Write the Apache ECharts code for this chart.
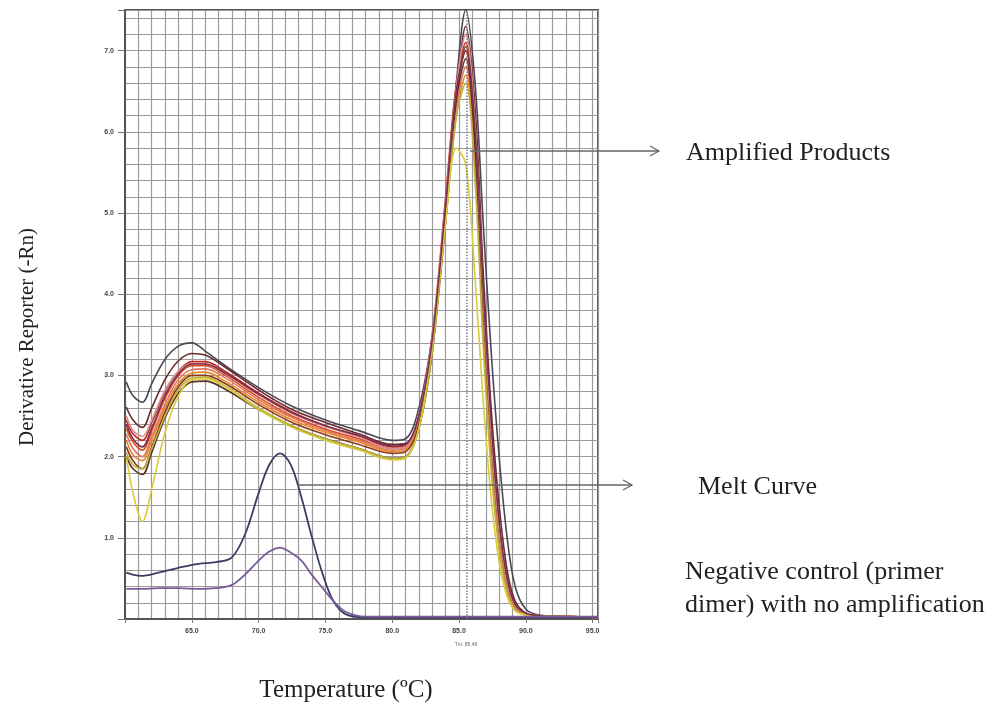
<!DOCTYPE html>
<html>
<head>
<meta charset="utf-8">
<script src="https://cdn.jsdelivr.net/npm/echarts@6/dist/echarts.min.js"></script>
<style>
  html, body { margin: 0; padding: 0; background: #fff; }
  #main { width: 995px; height: 710px; }
</style>
</head>
<body>
<div id="main"></div>
<script>
// melt temperatures (x) shared by the amplified samples
const temps = [60.1, 60.6, 61.3, 62.0, 63.0, 64.0, 65.0, 66.0, 67.5, 70, 72.5, 75, 77.5, 80, 81, 82, 83, 84, 84.8, 85.5, 86.2, 86.8, 87.4, 88.0, 88.6, 89.2, 90.0, 91, 93, 95.4];

// derivative reporter values, one array per well
const wellA = [2.92, 2.75, 2.67, 2.90, 3.20, 3.36, 3.40, 3.30, 3.12, 2.85, 2.62, 2.45, 2.32, 2.20, 2.22, 2.60, 3.50, 5.00, 6.60, 7.50, 6.60, 4.90, 3.30, 2.00, 1.00, 0.40, 0.12, 0.05, 0.03, 0.02];
const wellB = [2.61, 2.45, 2.36, 2.60, 2.95, 3.18, 3.27, 3.25, 3.10, 2.82, 2.58, 2.42, 2.28, 2.15, 2.16, 2.50, 3.40, 4.90, 6.40, 7.30, 6.30, 4.30, 2.60, 1.40, 0.60, 0.22, 0.07, 0.04, 0.03, 0.02];
const wellC = [2.45, 2.28, 2.20, 2.42, 2.80, 3.05, 3.17, 3.17, 3.05, 2.78, 2.55, 2.38, 2.25, 2.12, 2.14, 2.50, 3.50, 5.20, 6.60, 7.10, 6.00, 4.00, 2.30, 1.10, 0.45, 0.16, 0.06, 0.04, 0.03, 0.02];
const wellD = [2.35, 2.18, 2.08, 2.32, 2.72, 3.00, 3.12, 3.12, 3.00, 2.73, 2.50, 2.34, 2.22, 2.10, 2.12, 2.48, 3.45, 5.10, 6.50, 7.00, 5.90, 3.90, 2.20, 1.05, 0.42, 0.15, 0.06, 0.04, 0.03, 0.02];
const wellE = [2.28, 2.10, 2.00, 2.25, 2.65, 2.95, 3.07, 3.08, 2.97, 2.70, 2.48, 2.32, 2.20, 2.08, 2.10, 2.45, 3.40, 5.00, 6.30, 6.80, 5.70, 3.70, 2.10, 1.00, 0.40, 0.14, 0.05, 0.04, 0.03, 0.02];
const wellF = [2.20, 2.02, 1.95, 2.20, 2.60, 2.90, 3.03, 3.04, 2.93, 2.67, 2.45, 2.30, 2.18, 2.06, 2.08, 2.42, 3.30, 4.90, 6.20, 6.70, 5.60, 3.60, 2.00, 0.95, 0.38, 0.13, 0.05, 0.04, 0.03, 0.02];
const wellG = [2.12, 1.95, 1.85, 2.12, 2.55, 2.86, 3.00, 3.00, 2.90, 2.64, 2.42, 2.27, 2.15, 2.04, 2.06, 2.40, 3.40, 5.10, 6.50, 7.05, 6.00, 4.10, 2.40, 1.15, 0.48, 0.17, 0.06, 0.04, 0.03, 0.02];
const wellH = [2.00, 1.85, 1.78, 2.05, 2.48, 2.78, 2.92, 2.93, 2.83, 2.58, 2.37, 2.22, 2.10, 1.98, 2.00, 2.35, 3.30, 5.00, 6.40, 6.90, 5.80, 3.90, 2.25, 1.10, 0.45, 0.16, 0.06, 0.04, 0.03, 0.02];
const wellI = [2.50, 2.32, 2.25, 2.45, 2.82, 3.05, 3.15, 3.14, 3.02, 2.76, 2.53, 2.37, 2.24, 2.10, 2.12, 2.50, 3.50, 5.15, 6.55, 7.20, 6.10, 4.00, 2.30, 1.10, 0.45, 0.16, 0.06, 0.04, 0.03, 0.02];
const wellJ = [2.05, 1.90, 1.85, 2.10, 2.50, 2.82, 2.97, 2.98, 2.87, 2.60, 2.38, 2.22, 2.10, 1.98, 2.00, 2.35, 3.30, 4.90, 6.20, 6.60, 5.40, 3.40, 1.85, 0.85, 0.32, 0.11, 0.05, 0.04, 0.03, 0.02];
const wellK = [2.00, 1.55, 1.20, 1.60, 2.30, 2.75, 2.95, 2.96, 2.86, 2.58, 2.36, 2.20, 2.08, 1.96, 1.98, 2.35, 3.40, 4.90, 5.80, 5.60, 4.20, 2.70, 1.50, 0.70, 0.28, 0.10, 0.05, 0.04, 0.03, 0.02];
const wellL = [2.40, 2.22, 2.12, 2.35, 2.75, 3.02, 3.14, 3.14, 3.03, 2.77, 2.54, 2.38, 2.26, 2.13, 2.15, 2.50, 3.45, 5.10, 6.50, 7.00, 6.00, 4.10, 2.45, 1.20, 0.50, 0.18, 0.07, 0.04, 0.03, 0.02];

const wellColors = ['#4b4756', '#6b2b2b', '#c8281e', '#e04a1c', '#e07860', '#e8862a', '#8b3a1e', '#5b3020', '#d89090', '#b8b040', '#d8cc3a', '#7a3050'];

// negative controls (primer dimer)
const negTemps = [60.1, 61.2, 62.5, 64, 65.5, 66.8, 68, 69, 70, 70.8, 71.6, 72.4, 73.2, 74, 74.8, 75.6, 76.5, 78, 80, 85, 90, 95.4];
const negDark = [0.57, 0.53, 0.57, 0.63, 0.68, 0.70, 0.76, 1.05, 1.55, 1.90, 2.04, 1.90, 1.50, 1.00, 0.55, 0.22, 0.06, 0.02, 0.02, 0.02, 0.02, 0.02];
const negPurple = [0.37, 0.37, 0.38, 0.38, 0.37, 0.38, 0.42, 0.55, 0.72, 0.83, 0.88, 0.82, 0.72, 0.54, 0.38, 0.22, 0.09, 0.03, 0.03, 0.03, 0.03, 0.03];

const tmValue = 85.55;
const xLabelTicks = [65, 70, 75, 80, 85, 90, 95];
const yLabelTicks = [1, 2, 3, 4, 5, 6, 7];

const wells = [wellA, wellB, wellC, wellD, wellE, wellF, wellG, wellH, wellI, wellJ, wellK, wellL];

const chart = echarts.init(document.getElementById('main'));

const serif = '"Liberation Serif", "DejaVu Serif", serif';

const series = wells.map((vals, i) => ({
    type: 'line',
    xAxisIndex: 0,
    yAxisIndex: 0,
    data: vals.map((v, j) => [temps[j], v]),
    smooth: 0.35,
    showSymbol: false,
    lineStyle: { color: wellColors[i], width: 1.6 },
    z: 3
}));

series.push({
    type: 'line',
    xAxisIndex: 0,
    yAxisIndex: 0,
    data: negDark.map((v, j) => [negTemps[j], v]),
    smooth: 0.35,
    showSymbol: false,
    lineStyle: { color: '#3c3c64', width: 1.8 },
    z: 3
});
series.push({
    type: 'line',
    xAxisIndex: 0,
    yAxisIndex: 0,
    data: negPurple.map((v, j) => [negTemps[j], v]),
    smooth: 0.35,
    showSymbol: false,
    lineStyle: { color: '#7a5a98', width: 1.8 },
    z: 3,
    markLine: {
        silent: true,
        symbol: 'none',
        label: { show: false },
        lineStyle: { color: '#7c7c8c', type: 'dotted', width: 1.5 },
        data: [{ xAxis: tmValue }]
    }
});

const option = {
    animation: false,
    backgroundColor: '#fff',
    grid: {
        left: 125, right: 397, top: 10, bottom: 91,
        show: true, borderColor: '#555', borderWidth: 2, backgroundColor: 'transparent'
    },
    xAxis: [
        {
            type: 'value', min: 60, max: 95.4, interval: 1, position: 'bottom',
            axisLine: { show: false }, axisTick: { show: false }, axisLabel: { show: false },
            splitLine: { show: true, lineStyle: { color: '#9a9a9a', width: 1.2 } }
        },
        {
            type: 'value', min: 60, max: 95.4, interval: 5, position: 'bottom',
            axisLine: { show: true, lineStyle: { color: '#555', width: 2 } },
            axisTick: { show: true, length: 4, lineStyle: { color: '#777' } },
            splitLine: { show: false },
            axisLabel: {
                margin: 9, fontSize: 7, fontWeight: 'bold', color: '#444',
                formatter: v => xLabelTicks.indexOf(Math.round(v * 10) / 10) >= 0 ? v.toFixed(1) : ''
            }
        }
    ],
    yAxis: [
        {
            type: 'value', min: 0, max: 7.5, interval: 0.2,
            axisLine: { show: false }, axisTick: { show: false }, axisLabel: { show: false },
            splitLine: { show: true, lineStyle: { color: '#9a9a9a', width: 1.2 } }
        },
        {
            type: 'value', min: 0, max: 7.5, interval: 1, position: 'left',
            axisLine: { show: true, lineStyle: { color: '#555', width: 2 } },
            axisTick: { show: true, length: 7, lineStyle: { color: '#777' } },
            splitLine: { show: false },
            axisLabel: {
                margin: 11, fontSize: 7, fontWeight: 'bold', color: '#444',
                formatter: v => yLabelTicks.indexOf(Math.round(v * 10) / 10) >= 0 ? v.toFixed(1) : ''
            }
        }
    ],
    series: series,
    graphic: [
        {
            type: 'text', x: 27, y: 337, rotation: Math.PI / 2,
            style: { text: 'Derivative Reporter (-Rn)', font: '21px ' + serif, fill: '#222', textAlign: 'center', textVerticalAlign: 'middle' }
        },
        {
            type: 'text', x: 346, y: 690,
            style: { text: 'Temperature (ºC)', font: '25px ' + serif, fill: '#222', textAlign: 'center', textVerticalAlign: 'middle' }
        },
        {
            type: 'text', x: 466, y: 645,
            style: { text: 'Tm: 85.46', font: '5px sans-serif', fill: '#666', textAlign: 'center', textVerticalAlign: 'middle' }
        },
        // annotation arrows
        { type: 'line', shape: { x1: 470, y1: 151, x2: 659, y2: 151 }, style: { stroke: '#666', lineWidth: 1.3 }, z: 10 },
        { type: 'polyline', shape: { points: [[650, 146], [659, 151], [650, 156]] }, style: { stroke: '#666', lineWidth: 1.3, fill: null }, z: 10 },
        { type: 'line', shape: { x1: 298, y1: 485, x2: 632, y2: 485 }, style: { stroke: '#666', lineWidth: 1.3 }, z: 10 },
        { type: 'polyline', shape: { points: [[623, 480], [632, 485], [623, 490]] }, style: { stroke: '#666', lineWidth: 1.3, fill: null }, z: 10 },
        {
            type: 'text', x: 686, y: 153,
            style: { text: 'Amplified Products', font: '26px ' + serif, fill: '#222', textVerticalAlign: 'middle' }
        },
        {
            type: 'text', x: 698, y: 487,
            style: { text: 'Melt Curve', font: '26px ' + serif, fill: '#222', textVerticalAlign: 'middle' }
        },
        {
            type: 'text', x: 685, y: 589,
            style: { text: 'Negative control (primer\ndimer) with no amplification', font: '26px ' + serif, lineHeight: 33, fill: '#222', textVerticalAlign: 'middle' }
        }
    ]
};

chart.setOption(option);
</script>
</body>
</html>
